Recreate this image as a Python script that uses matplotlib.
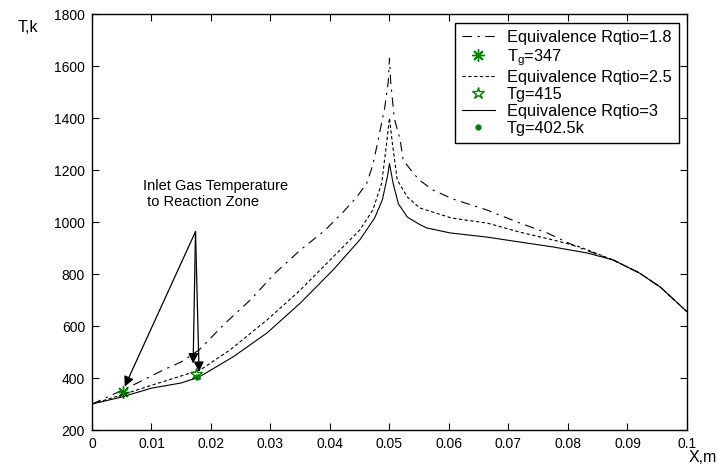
import numpy as np
import matplotlib
matplotlib.use("Agg")
from matplotlib import pyplot as plt

plt.rcParams['font.family'] = ['Liberation Sans', 'DejaVu Sans']
plt.rcParams['mathtext.fontset'] = 'custom'
plt.rcParams['mathtext.rm'] = 'Liberation Sans'
plt.rcParams['mathtext.it'] = 'Liberation Sans:italic'

# equivalence ratio 1.8 (dash-dot)
x_18 = [0, 0.005, 0.008, 0.012, 0.015, 0.018, 0.0224, 0.0266, 0.0308, 0.035,
        0.0392, 0.0422, 0.0445, 0.0462, 0.0472, 0.0481, 0.0492, 0.0498, 0.0500,
        0.0502, 0.0508, 0.0518, 0.0523, 0.054, 0.0551, 0.0573, 0.0607, 0.0664,
        0.0719, 0.0765, 0.0815, 0.0876, 0.092, 0.0955, 0.1]
t_18 = [300, 352, 385, 431, 462, 508, 611, 700, 804, 892,
        969, 1038, 1096, 1150, 1220, 1315, 1440, 1540, 1630,
        1540, 1400, 1315, 1238, 1188, 1160, 1123, 1088, 1046,
        996, 958, 904, 854, 804, 750, 655]

# equivalence ratio 2.5 (dashed)
x_25 = [0, 0.005, 0.01, 0.015, 0.0182, 0.0232, 0.0294, 0.035, 0.0405, 0.045,
        0.0472, 0.0487, 0.0495, 0.0500, 0.0505, 0.0513, 0.053, 0.0551, 0.0605,
        0.0664, 0.0719, 0.0775, 0.082, 0.0876, 0.092, 0.0955, 0.1]
t_25 = [300, 335, 372, 408, 431, 508, 623, 738, 865, 969,
        1046, 1150, 1300, 1400, 1300, 1162, 1096, 1054, 1015,
        996, 961, 931, 904, 854, 804, 750, 655]

# equivalence ratio 3 (solid)
x_3 = [0, 0.005, 0.01, 0.015, 0.018, 0.0237, 0.0294, 0.035, 0.0405, 0.045,
       0.0475, 0.0488, 0.0497, 0.0500, 0.0506, 0.0515, 0.053, 0.0551, 0.0563,
       0.0602, 0.0664, 0.0719, 0.0775, 0.0832, 0.0876, 0.092, 0.0955, 0.1]
t_3 = [300, 327, 361, 381, 404, 481, 573, 688, 815, 931,
       1015, 1085, 1180, 1225, 1150, 1070, 1019, 990, 977,
       958, 942, 923, 904, 881, 854, 804, 750, 655]

# inlet gas temperature points
tg_x = [0.0052, 0.0174, 0.0177]
tg_t = [347, 415, 402.5]

arrow_from = (0.0174, 963)
arrow_to = [(0.0055, 367), (0.0170, 456), (0.0180, 424)]

green = '#008000'

fig = plt.figure(figsize=(7.18, 4.67), dpi=100)
ax = fig.add_axes([0.1281, 0.0792, 0.8287, 0.8908])

ax.plot(x_18, t_18, color='k', lw=0.8, dashes=(8.5, 5, 2, 5),
        label='Equivalence Rqtio=1.8')
ax.plot(tg_x[0], tg_t[0], linestyle='none', marker=(8, 2, 0), ms=9,
        mec=green, mew=1.0, label='T$_\\mathrm{g}$=347')
ax.plot(x_25, t_25, color='k', lw=0.8, dashes=(3, 2.2),
        label='Equivalence Rqtio=2.5')
ax.plot(tg_x[1], tg_t[1], linestyle='none', marker='*', ms=9,
        mec=green, mfc='none', mew=1.0, label='Tg=415')
ax.plot(x_3, t_3, color='k', lw=0.8, label='Equivalence Rqtio=3')
ax.plot(tg_x[2], tg_t[2], linestyle='none', marker='.', ms=7,
        color=green, label='Tg=402.5k')

for p in arrow_to:
    ax.annotate('', xy=p, xytext=arrow_from,
                arrowprops=dict(arrowstyle='-|>', color='k', lw=0.9,
                                mutation_scale=15, shrinkA=0, shrinkB=0))

ax.text(0.0085, 1165, 'Inlet Gas Temperature\n to Reaction Zone',
        fontsize=10.5, ha='left', va='top', linespacing=1.15)

ax.set_xlim(0, 0.1)
ax.set_ylim(200, 1800)
xt = np.arange(0, 0.1001, 0.01)
ax.set_xticks(xt)
ax.set_xticklabels(['0'] + ['%g' % round(v, 2) for v in xt[1:]])
ax.set_yticks(np.arange(200, 1801, 200))
ax.tick_params(direction='in', top=True, right=True, length=5,
               labelsize=10, pad=5)
for s in ax.spines.values():
    s.set_linewidth(1.0)

leg = ax.legend(loc='upper right', bbox_to_anchor=(0.987, 0.979),
                borderaxespad=0, fontsize=11.8, frameon=True, fancybox=False,
                edgecolor='k', framealpha=1, handlelength=2.0,
                handletextpad=0.75, labelspacing=0.12, borderpad=0.45)
leg.get_frame().set_linewidth(1.0)

fig.text(28 / 718, 1 - 28 / 467, 'T,k', fontsize=11.5, ha='center', va='center')
fig.text(703 / 718, 1 - 458 / 467, 'X,m', fontsize=11.5, ha='center', va='center')

fig.savefig('out.png', dpi=100)
